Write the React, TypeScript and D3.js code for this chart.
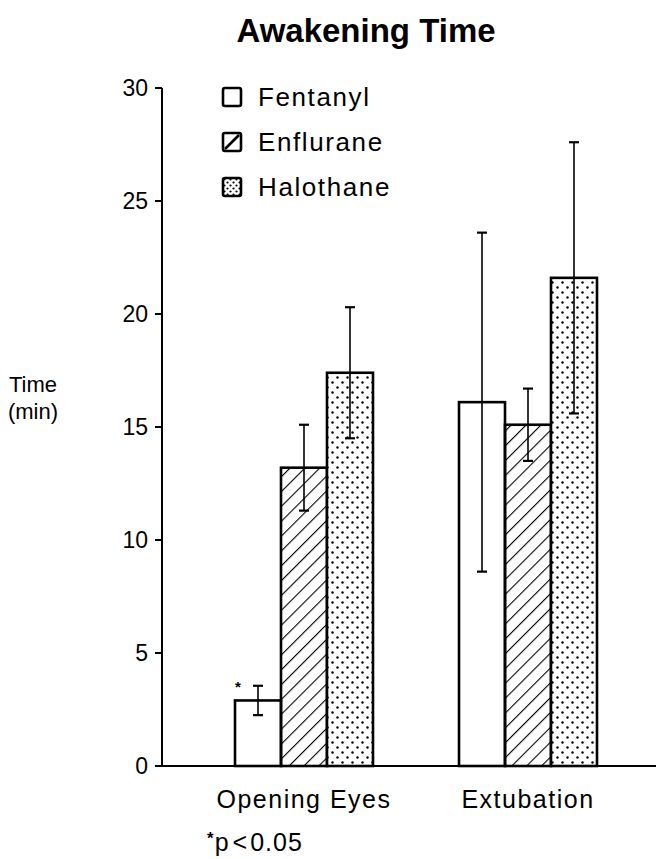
import React from 'react';
import * as d3 from 'd3';

const groups = ['Opening Eyes', 'Extubation'];
const drugs = ['Fentanyl', 'Enflurane', 'Halothane'];
const fentanylMean = [2.9, 16.1];
const fentanylErr = [0.65, 7.5];
const enfluraneMean = [13.2, 15.1];
const enfluraneErr = [1.9, 1.6];
const halothaneMean = [17.4, 21.6];
const halothaneErr = [2.9, 6.0];
const yTicks = [0, 5, 10, 15, 20, 25, 30];

const means = [fentanylMean, enfluraneMean, halothaneMean];
const errs = [fentanylErr, enfluraneErr, halothaneErr];
const fills = ['#fff', 'url(#hatch)', 'url(#dots)'];

const W = 656;
const H = 859;
const FONT = '"Liberation Sans", Arial, Helvetica, sans-serif';

export default function App() {
  const y = d3.scaleLinear().domain([0, 30]).range([766, 88]);
  const x0 = d3.scaleBand<string>()
    .domain(groups)
    .range([192, 640])
    .paddingInner(0.384)
    .paddingOuter(0.192);
  const x1 = d3.scaleBand<string>().domain(drugs).range([0, x0.bandwidth()]);
  const axisX = 162;

  const bars: any[] = [];
  groups.forEach((g, gi) => {
    drugs.forEach((dname, di) => {
      bars.push({
        g, dname, di,
        v: means[di][gi],
        e: errs[di][gi],
        x: (x0(g) || 0) + (x1(dname) || 0),
      });
    });
  });
  const bw = x1.bandwidth();

  return (
    <svg width={W} height={H} style={{ position: 'absolute', left: 0, top: 0, background: '#fff' }}
      fontFamily={FONT}>
      <defs>
        <pattern id="hatch" width={10.5} height={10.5} patternUnits="userSpaceOnUse"
          patternTransform="rotate(45)">
          <line x1={0} y1={0} x2={0} y2={10.5} stroke="#000" strokeWidth={2.2} />
        </pattern>
        <pattern id="dots" width={10} height={10} patternUnits="userSpaceOnUse">
          <rect width={10} height={10} fill="#fff" />
          <circle cx={2.5} cy={2.5} r={1.2} fill="#000" />
          <circle cx={7.5} cy={7.5} r={1.2} fill="#000" />
        </pattern>
        <pattern id="dotsSmall" width={6} height={6} patternUnits="userSpaceOnUse">
          <rect width={6} height={6} fill="#fff" />
          <circle cx={1.5} cy={1.5} r={1.1} fill="#000" />
          <circle cx={4.5} cy={4.5} r={1.1} fill="#000" />
        </pattern>
      </defs>

      <text x={366} y={42} textAnchor="middle" fontSize={33} fontWeight="bold">Awakening Time</text>

      {/* y axis */}
      <line x1={axisX} x2={axisX} y1={y(30)} y2={y(0)} stroke="#000" strokeWidth={2} />
      {yTicks.map(t => (
        <g key={t}>
          <line x1={axisX - 7} x2={axisX} y1={y(t)} y2={y(t)} stroke="#000" strokeWidth={2} />
          <text x={148} y={y(t)} dy="0.36em" textAnchor="end" fontSize={23}>{t}</text>
        </g>
      ))}
      <text x={33} y={392} textAnchor="middle" fontSize={22}>Time</text>
      <text x={33} y={419} textAnchor="middle" fontSize={22}>(min)</text>

      {/* bars */}
      {bars.map((b, i) => (
        <rect key={'b' + i} x={b.x} y={y(b.v)} width={bw} height={y(0) - y(b.v)}
          fill={fills[b.di]} stroke="#000" strokeWidth={2.6} />
      ))}
      {bars.map((b, i) => {
        const cx = b.x + bw / 2;
        return (
          <g key={'e' + i} stroke="#000" strokeWidth={1.6}>
            <line x1={cx} x2={cx} y1={y(b.v + b.e)} y2={y(b.v - b.e)} />
            <line x1={cx - 5} x2={cx + 5} y1={y(b.v + b.e)} y2={y(b.v + b.e)} strokeWidth={2.2} />
            <line x1={cx - 5} x2={cx + 5} y1={y(b.v - b.e)} y2={y(b.v - b.e)} strokeWidth={2.2} />
          </g>
        );
      })}

      {/* x axis */}
      <line x1={axisX} x2={W} y1={y(0)} y2={y(0)} stroke="#000" strokeWidth={2} />
      {groups.map(g => (
        <text key={g} x={(x0(g) || 0) + x0.bandwidth() / 2} y={808} textAnchor="middle"
          fontSize={25} letterSpacing={1.5}>{g}</text>
      ))}

      {/* significance marker */}
      <text x={bars[0].x + 3} y={y(fentanylMean[0]) - 8} textAnchor="middle" fontSize={15} fontWeight="bold">*</text>
      <text x={207} y={851} fontSize={25}>
        <tspan fontSize={17} fontWeight="bold" dy={-7}>*</tspan>
        <tspan dy={7} dx={1}>p</tspan>
        <tspan dx={4}>{'<'}</tspan>
        <tspan dx={3} letterSpacing={1}>0.05</tspan>
      </text>

      {/* legend */}
      {drugs.map((dname, i) => (
        <g key={dname} transform={`translate(223, ${88 + i * 45})`}>
          <rect x={0} y={0} width={18} height={18} rx={2} fill={i === 2 ? 'url(#dotsSmall)' : '#fff'}
            stroke="#000" strokeWidth={2.6} />
          {i === 1 && <line x1={2} y1={16} x2={16} y2={2} stroke="#000" strokeWidth={2.6} />}
          <text x={35} y={9} dy="0.36em" fontSize={26} letterSpacing={1.6}>{dname}</text>
        </g>
      ))}
    </svg>
  );
}
